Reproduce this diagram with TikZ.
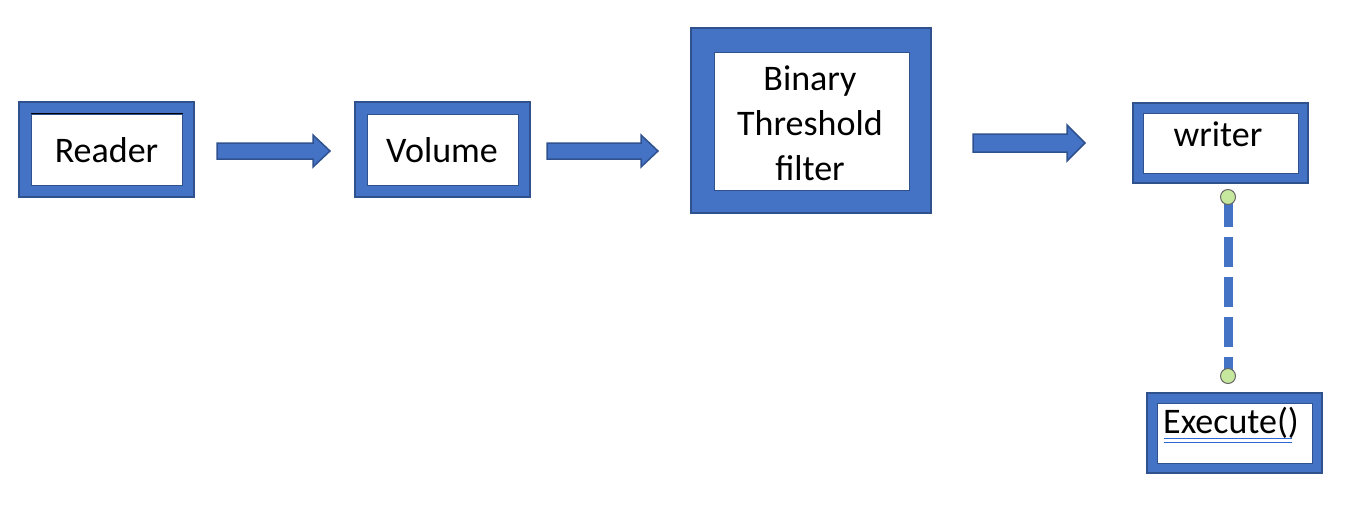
\documentclass[tikz,border=0pt]{standalone}
\usepackage{fontspec}
\setmainfont{Carlito}
\usetikzlibrary{calc}
\definecolor{boxblue}{HTML}{4472C4}
\definecolor{edgeblue}{HTML}{2F528F}
\definecolor{dotgreen}{HTML}{C5E79E}
\definecolor{ulblue}{HTML}{2E66D6}
\tikzset{
  outerbox/.style={draw=edgeblue, line width=1.5pt, fill=boxblue, inner sep=0pt},
  innerbox/.style={draw=edgeblue, line width=1pt, fill=white, inner sep=0pt},
  blockarrow/.style={draw=edgeblue, line width=1.5pt, fill=boxblue, line join=miter},
  label/.style={font=\fontsize{36}{45}\selectfont, align=center, inner sep=0pt},
  dotend/.style={circle, draw=black!60, line width=1pt, fill=dotgreen, minimum size=15pt, inner sep=0pt},
  dashlink/.style={draw=boxblue, line width=9pt, dash pattern=on 30pt off 10pt}
}
\begin{document}
\begin{tikzpicture}[x=1pt,y=-1pt]
\useasboundingbox (0,0) rectangle (1350,506);
% Reader
\node[outerbox, minimum width=175pt, minimum height=95pt] (reader) at (106.5,149.5) {};
\node[innerbox, minimum width=151pt, minimum height=71pt] (readerin) at (reader.center) {};
\draw[black, line width=1.5pt] (readerin.north west) -- (readerin.north east);
\node[label] (readertxt) at (106.5,150) {Reader};
% Volume
\node[outerbox, minimum width=175pt, minimum height=95pt] (volume) at (442.5,149.5) {};
\node[innerbox, minimum width=151pt, minimum height=71pt] (volumein) at (volume.center) {};
\node[label] (volumetxt) at (442,150) {Volume};
% Binary threshold filter
\node[outerbox, minimum width=240pt, minimum height=185pt] (binary) at (811,120.5) {};
\node[innerbox, minimum width=195pt, minimum height=138pt] (binaryin) at (811.5,121) {};
\node[label] (binarytxt) at (810,123) {Binary\\Threshold\\filter};
% Writer
\node[outerbox, minimum width=175pt, minimum height=80pt] (writer) at (1220.5,143) {};
\node[innerbox, minimum width=155pt, minimum height=60pt] (writerin) at (writer.center) {};
\node[label] (writertxt) at (1218,134) {writer};
% Execute
\node[outerbox, minimum width=175pt, minimum height=80pt] (exec) at (1234.5,433) {};
\node[innerbox, minimum width=155pt, minimum height=60pt] (execin) at (exec.center) {};
\node[label, anchor=base west] (exectxt) at (1163,433) {Execute()};
\draw[ulblue, line width=1.2pt] (1164,438.5) -- (1292,438.5);
\draw[ulblue, line width=1.2pt] (1164,442.5) -- (1292,442.5);
% block arrows
\draw[blockarrow] (217,143) -- (313,143) -- (313,135) -- (330,151) -- (313,167) -- (313,159) -- (217,159) -- cycle;
\draw[blockarrow] (547,143) -- (641,143) -- (641,135) -- (658,151) -- (641,167) -- (641,159) -- (547,159) -- cycle;
\draw[blockarrow] (973,134) -- (1067,134) -- (1067,125) -- (1085,143) -- (1067,161) -- (1067,152) -- (973,152) -- cycle;
% dashed link
\coordinate (ltop) at (1228,197);
\coordinate (lbot) at (1228,376);
\draw[dashlink] (ltop) -- (lbot);
\node[dotend] (dtop) at (ltop) {};
\node[dotend] (dbot) at (lbot) {};
\end{tikzpicture}
\end{document}
